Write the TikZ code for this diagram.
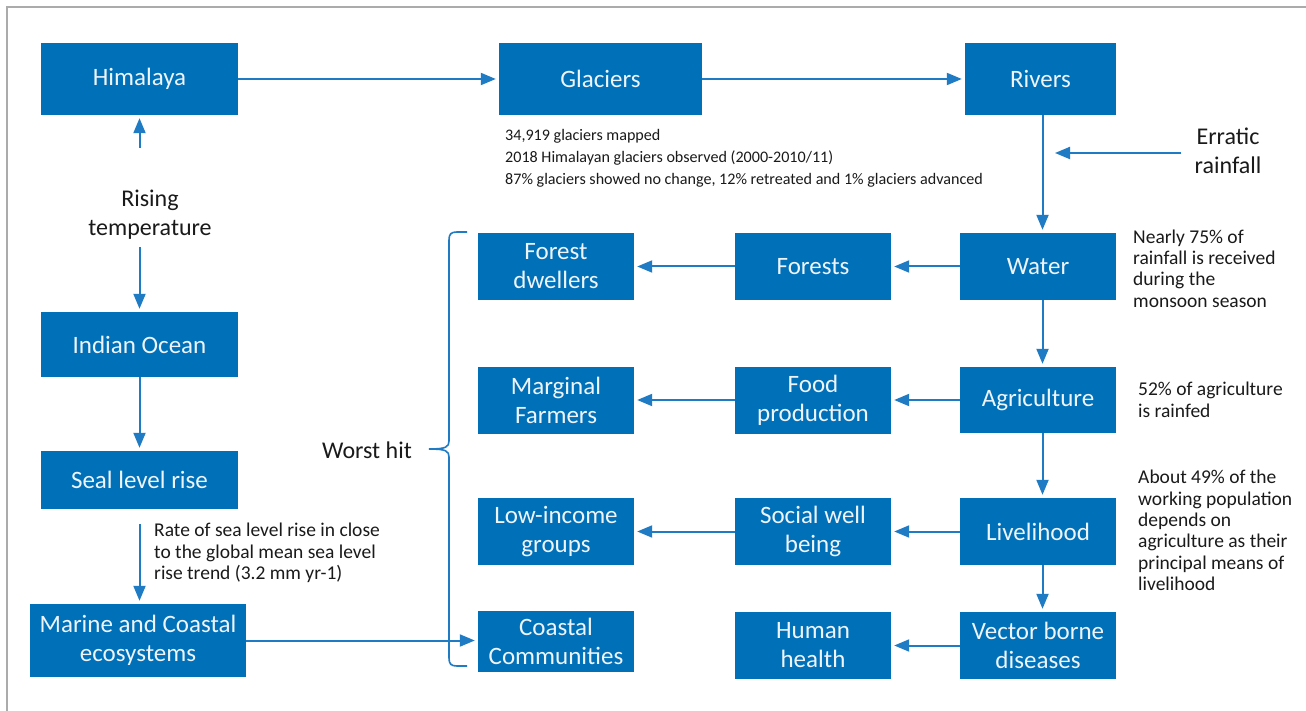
\documentclass[tikz,border=0pt]{standalone}
\usepackage{fontspec}
\setmainfont{Carlito}
\usetikzlibrary{arrows.meta}
\definecolor{boxblue}{HTML}{0070B8}
\definecolor{linkblue}{HTML}{1F7BC3}
\definecolor{framegray}{HTML}{ABABAB}
\definecolor{boxtext}{HTML}{EEF4FA}
\definecolor{notetext}{HTML}{1A1A1A}
\begin{document}
\begin{tikzpicture}[x=1pt,y=-1pt,
  box/.style={fill=boxblue,text=boxtext,inner sep=0pt,align=center,
    font=\fontsize{25}{29}\selectfont},
  dim/.style 2 args={minimum width=#1pt,minimum height=#2pt},
  arr/.style={draw=linkblue,line width=2pt,
    -{Triangle[length=15pt,width=12pt]},shorten >=3pt},
  big/.style={font=\fontsize{24}{29}\selectfont,align=center,text=notetext,inner sep=0pt},
  small/.style={font=\fontsize{19.5}{21.4}\selectfont,align=left,text=notetext,inner sep=0pt},
  glacnote/.style={small,font=\fontsize{16.1}{22}\selectfont},
]
% canvas and frame
\useasboundingbox (0,0) rectangle (1306,711);
\fill[white] (0,0) rectangle (1306,711);
\draw[framegray,line width=1.5pt] (7,711) -- (7,7) -- (1306,7);

% top row
\node[box,dim={197}{72}] (him) at (139.5,79) {Himalaya};
\node[box,dim={203}{72}] (gla) at (600.5,79) {Glaciers};
\node[box,dim={151}{72}] (riv) at (1040.5,79) {Rivers};

% left column
\node[big] (rt) at (150,215) {Rising\\temperature};
\coordinate (rtup) at (139.5,148);
\coordinate (rtdn) at (139.5,247);
\node[box,dim={197}{65}] (ind) at (139.5,344.5) {Indian Ocean};
\node[box,dim={197}{58}] (sea) at (139.5,480) {Seal level rise};
\node[box,dim={216}{73}] (mar) at (138,640.5) {Marine and Coastal\\ecosystems};

% right column
\node[box,dim={156}{67}] (wat) at (1038,266.5) {Water};
\node[box,dim={156}{66}] (agr) at (1038,400) {Agriculture};
\node[box,dim={156}{67}] (liv) at (1038,531.5) {Livelihood};
\node[box,dim={156}{67}] (vec) at (1038,645.5) {Vector borne\\diseases};

% middle column
\node[box,dim={156}{67}] (fst) at (813,266.5) {Forests};
\node[box,dim={156}{67}] (food) at (813,400) {Food\\production};
\node[box,dim={156}{67}] (soc) at (813,531.5) {Social well\\being};
\node[box,dim={156}{67}] (hum) at (813,645.5) {Human\\health};

% worst hit column
\node[box,dim={156}{67}] (fdw) at (556,266.5) {Forest\\dwellers};
\node[box,dim={156}{67}] (marg) at (556,400) {Marginal\\Farmers};
\node[box,dim={156}{67}] (low) at (556,531.5) {Low-income\\groups};
\node[box,dim={156}{61}] (coast) at (556,641.5) {Coastal\\Communities};

% notes
\node[glacnote,anchor=north west] (glanote) at (505,129)
  {34,919 glaciers mapped\\
   2018 Himalayan glaciers observed (2000-2010/11)\\
   87\% glaciers showed no change, 12\% retreated and 1\% glaciers advanced};
\node[big] (err) at (1228,151) {Erratic\\rainfall};
\coordinate (errin) at (1055,153);
\node[small,anchor=west] (watnote) at (1133,268.5)
  {Nearly 75\% of\\rainfall is received\\during the\\monsoon season};
\node[small,anchor=west] (agrnote) at (1138,400) {52\% of agriculture\\is rainfed};
\node[small,anchor=west] (livnote) at (1138,530.5)
  {About 49\% of the\\working population\\depends on\\agriculture as their\\principal means of\\livelihood};
\node[small,anchor=west] (seanote) at (154,553)
  {Rate of sea level rise in close\\to the global mean sea level\\rise trend (3.2 mm yr-1)};
\node[big] (worst) at (367,450) {Worst hit};

% connectors
\draw[arr] (him.east) -- (gla.west);
\draw[arr] (gla.east) -- (riv.west);
\draw[arr] ([xshift=2pt]riv.south) -- ([xshift=4.5pt]wat.north);
\draw[arr,shorten >=0pt] ([xshift=-13pt]err.west |- errin) -- (errin);
\draw[arr] ([xshift=4.5pt]wat.south) -- ([xshift=4.5pt]agr.north);
\draw[arr] ([xshift=4.5pt]agr.south) -- ([xshift=4.5pt]liv.north);
\draw[arr] ([xshift=4.5pt]liv.south) -- ([xshift=4.5pt]vec.north);
\draw[arr] (wat.west) -- (fst.east);
\draw[arr] (fst.west) -- (fdw.east);
\draw[arr] (agr.west) -- (food.east);
\draw[arr] (food.west) -- (marg.east);
\draw[arr] (liv.west) -- (soc.east);
\draw[arr] (soc.west) -- (low.east);
\draw[arr] (vec.west) -- (hum.east);
\draw[arr] (rtup) -- (him.south);
\draw[arr] (rtdn) -- (ind.north);
\draw[arr] (ind.south) -- (sea.north);
\draw[arr] ([yshift=-15pt]sea.south) -- (sea.south |- mar.north);
\draw[arr] (mar.east) -- (mar.east -| coast.west);

% brace grouping the worst hit groups
\draw[linkblue,line width=1.6pt]
  (467,232) -- (457,232) .. controls (451,232) and (449,234) .. (449,240)
  -- (449,441) .. controls (449,447) and (446,449) .. (429,449)
  .. controls (446,449) and (449,451) .. (449,457)
  -- (449,658) .. controls (449,664) and (451,666) .. (457,666) -- (467,666);
\end{tikzpicture}
\end{document}
